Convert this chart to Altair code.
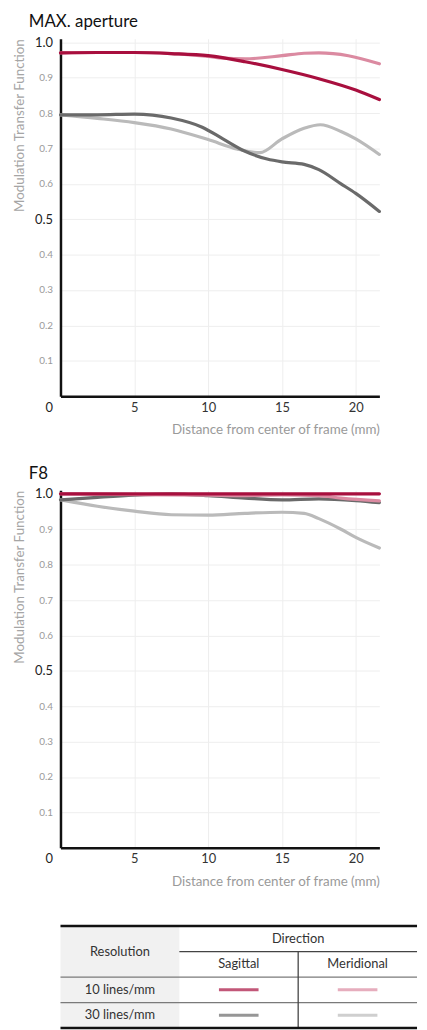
import altair as alt
import pandas as pd

FONT = "Lato"

# ---- series definitions -------------------------------------------------
RESOLUTIONS = ["10 lines/mm", "30 lines/mm"]
DIRECTIONS = ["Sagittal", "Meridional"]
SERIES = ["10 Sagittal", "10 Meridional", "30 Sagittal", "30 Meridional"]
SERIES_COLORS = ["#a80f3e", "#db8aa1", "#6a6a6a", "#bababa"]
DRAW_ORDER = ["30 Meridional", "30 Sagittal", "10 Meridional", "10 Sagittal"]

# ---- MAX. aperture ------------------------------------------------------
MAX_S10_X = [0, 2.5, 5, 7.5, 10, 12.5, 15, 17.5, 20, 21.6]
MAX_S10_Y = [0.970, 0.971, 0.971, 0.968, 0.962, 0.945, 0.923, 0.897, 0.865, 0.838]
MAX_M10_X = [0, 2.5, 5, 7.5, 10, 11, 12.5, 15, 16.5, 17.5, 19.5, 21.6]
MAX_M10_Y = [0.970, 0.971, 0.971, 0.968, 0.960, 0.955, 0.953, 0.962, 0.969, 0.970, 0.962, 0.939]
MAX_S30_X = [0, 2.5, 5, 7.5, 9.6, 11, 12.5, 14, 15, 16.5, 17.5, 19, 20, 21.6]
MAX_S30_Y = [0.795, 0.795, 0.797, 0.786, 0.760, 0.727, 0.692, 0.670, 0.662, 0.655,
             0.640, 0.600, 0.573, 0.522]
MAX_M30_X = [0, 2.5, 5, 7.5, 10, 12, 13.5, 15, 16.5, 17.6, 19, 20, 21.6]
MAX_M30_Y = [0.795, 0.785, 0.773, 0.755, 0.725, 0.698, 0.688, 0.727, 0.757, 0.767,
             0.748, 0.727, 0.683]

# ---- F8 ------------------------------------------------------------------
F8_S10_X = [0, 5, 10, 15, 20, 21.6]
F8_S10_Y = [1.0, 1.0, 1.0, 1.0, 1.0, 1.0]
F8_M10_X = [0, 5, 10, 12.5, 15, 17.5, 19, 21.6]
F8_M10_Y = [1.0, 0.998, 0.996, 0.995, 0.997, 0.995, 0.988, 0.980]
F8_S30_X = [0, 2.5, 5, 7.5, 10, 12.5, 15, 17.5, 20, 21.6]
F8_S30_Y = [0.983, 0.990, 0.996, 0.999, 0.995, 0.988, 0.983, 0.986, 0.981, 0.975]
F8_M30_X = [0, 2.5, 5, 7.5, 10, 12.5, 15, 16.5, 17.5, 19, 20, 21.6]
F8_M30_Y = [0.983, 0.965, 0.951, 0.941, 0.940, 0.945, 0.948, 0.945, 0.930, 0.900,
            0.877, 0.847]

X_TICKS = [5, 10, 15, 20]
Y_TICKS = [0, 0.1, 0.2, 0.3, 0.4, 0.5, 0.6, 0.7, 0.8, 0.9, 1.0]
X_TITLE = "Distance from center of frame (mm)"
Y_TITLE = "Modulation Transfer Function"

PLOT_W = 322
PLOT_H = 361
TABLE_COL_PX = 120

color_scale = alt.Scale(domain=SERIES, range=SERIES_COLORS)


def curve_frame(curves):
    rows = []
    for name, xs, ys in curves:
        for x, y in zip(xs, ys):
            rows.append({"series": name, "dist": x, "mtf": y})
    return pd.DataFrame(rows)


BIG_LABEL = "datum.value == 0 || datum.value == 0.5 || datum.value == 1"


def mtf_chart(frame, title):
    x = alt.X(
        "dist:Q",
        scale=alt.Scale(domain=[0, 21.6], nice=False, zero=False),
        axis=alt.Axis(
            values=X_TICKS, title=X_TITLE, titleAnchor="end", titleColor="#9a9a9a",
            titleFontSize=13.5, titleFontWeight="normal", titlePadding=9,
            labelFontSize=13, labelColor="#333", labelPadding=5, ticks=False,
            domainColor="#111", domainWidth=2.5, gridColor="#eeeeee",
        ),
    )
    y = alt.Y(
        "mtf:Q",
        scale=alt.Scale(domain=[0, 1.01], nice=False),
        axis=alt.Axis(
            values=Y_TICKS, title=Y_TITLE, titleAnchor="end", titleColor="#a5a5a5",
            titleFontSize=13.5, titleFontWeight="normal", titlePadding=8,
            labelExpr="datum.value == 0 ? '0' : format(datum.value, '.1f')",
            labelColor={"expr": f"{BIG_LABEL} ? '#222' : '#9a9a9a'"},
            labelFontSize={"expr": f"{BIG_LABEL} ? 13 : 10"},
            labelOffset={"expr": "datum.value == 0 ? 11 : 0"},
            labelPadding=8, ticks=False,
            domainColor="#111", domainWidth=2.5, gridColor="#eeeeee",
        ),
    )
    layers = []
    for name in DRAW_ORDER:
        layers.append(
            alt.Chart(frame)
            .transform_filter(alt.datum.series == name)
            .mark_line(interpolate="monotone", strokeWidth=3.2, strokeCap="round")
            .encode(x=x, y=y, color=alt.Color("series:N", scale=color_scale, legend=None))
        )
    return alt.layer(*layers).properties(
        width=PLOT_W,
        height=PLOT_H,
        title=alt.TitleParams(
            title, anchor="start", frame="group", dx=-32, fontSize=17,
            fontWeight="normal", color="#111", offset=5,
        ),
    )


max_frame = curve_frame([
    ("10 Sagittal", MAX_S10_X, MAX_S10_Y),
    ("10 Meridional", MAX_M10_X, MAX_M10_Y),
    ("30 Sagittal", MAX_S30_X, MAX_S30_Y),
    ("30 Meridional", MAX_M30_X, MAX_M30_Y),
])
f8_frame = curve_frame([
    ("10 Sagittal", F8_S10_X, F8_S10_Y),
    ("10 Meridional", F8_M10_X, F8_M10_Y),
    ("30 Sagittal", F8_S30_X, F8_S30_Y),
    ("30 Meridional", F8_M30_X, F8_M30_Y),
])

# ---- legend table ---------------------------------------------------------
n_cols = 1 + len(DIRECTIONS)
n_rows = 2 + len(RESOLUTIONS)

cells = [
    {"label": "Resolution", "col": 0.5, "row": 1.0},
    {"label": "Direction", "col": 1 + len(DIRECTIONS) / 2, "row": 0.5},
]
for c, d in enumerate(DIRECTIONS):
    cells.append({"label": d, "col": c + 1.5, "row": 1.5})
for r, res in enumerate(RESOLUTIONS):
    cells.append({"label": res, "col": 0.5, "row": r + 2.5})
cells = pd.DataFrame(cells)

swatches = []
for r, res in enumerate(RESOLUTIONS):
    for c, d in enumerate(DIRECTIONS):
        swatches.append({"series": f"{res.split()[0]} {d}", "col": c + 1.5, "row": r + 2.5})
swatches = pd.DataFrame(swatches)

border_rules = pd.DataFrame([
    {"x": 0, "x2": n_cols, "y": 0, "y2": 0},
    {"x": 0, "x2": n_cols, "y": n_rows, "y2": n_rows},
])
head_rules = pd.DataFrame([
    {"x": 1, "x2": n_cols, "y": 1, "y2": 1},
    {"x": 2, "x2": 2, "y": 1, "y2": n_rows},
])
inner_rules = pd.DataFrame([
    {"x": 0, "x2": n_cols, "y": 2, "y2": 2},
    {"x": 0, "x2": n_cols, "y": 3, "y2": 3},
])
shade = pd.DataFrame([{"x": 0, "x2": 1, "y": 0, "y2": n_rows}])

tx = alt.Scale(domain=[0, n_cols], nice=False, zero=False)
ty = alt.Scale(domain=[0, n_rows], nice=False, reverse=True)


def span_encoding():
    return dict(
        x=alt.X("x:Q", scale=tx, axis=None), x2="x2:Q",
        y=alt.Y("y:Q", scale=ty, axis=None), y2="y2:Q",
    )


table_bg = alt.Chart(shade).mark_rect(color="#f1f1f1").encode(**span_encoding())
table_inner = alt.Chart(inner_rules).mark_rule(color="#7a7a7a", strokeWidth=1.3).encode(**span_encoding())
table_head = alt.Chart(head_rules).mark_rule(color="#444", strokeWidth=1.3).encode(**span_encoding())
table_border = alt.Chart(border_rules).mark_rule(color="#111", strokeWidth=2.5).encode(**span_encoding())
table_text = alt.Chart(cells).mark_text(fontSize=13, color="#333", font=FONT).encode(
    x=alt.X("col:Q", scale=tx, axis=None),
    y=alt.Y("row:Q", scale=ty, axis=None),
    text="label:N",
)
table_swatch = alt.Chart(swatches).mark_tick(orient="horizontal", size=40, thickness=3).encode(
    x=alt.X("col:Q", scale=tx, axis=None),
    y=alt.Y("row:Q", scale=ty, axis=None),
    color=alt.Color("series:N", scale=color_scale, legend=None),
)
table = alt.layer(
    table_bg, table_inner, table_head, table_border, table_text, table_swatch
).properties(width=TABLE_COL_PX * n_cols, height=103)

chart = (
    alt.vconcat(
        alt.vconcat(mtf_chart(max_frame, "MAX. aperture"), mtf_chart(f8_frame, "F8"), spacing=28),
        table,
        spacing=36,
    )
    .properties(padding={"left": 4, "top": 0, "right": 0, "bottom": 0})
    .configure_view(stroke=None)
    .configure_axis(labelFont=FONT, titleFont=FONT)
    .configure_title(font=FONT)
    .configure_text(font=FONT)
)

chart.save("out.html", embed_options={"renderer": "svg", "actions": False})
